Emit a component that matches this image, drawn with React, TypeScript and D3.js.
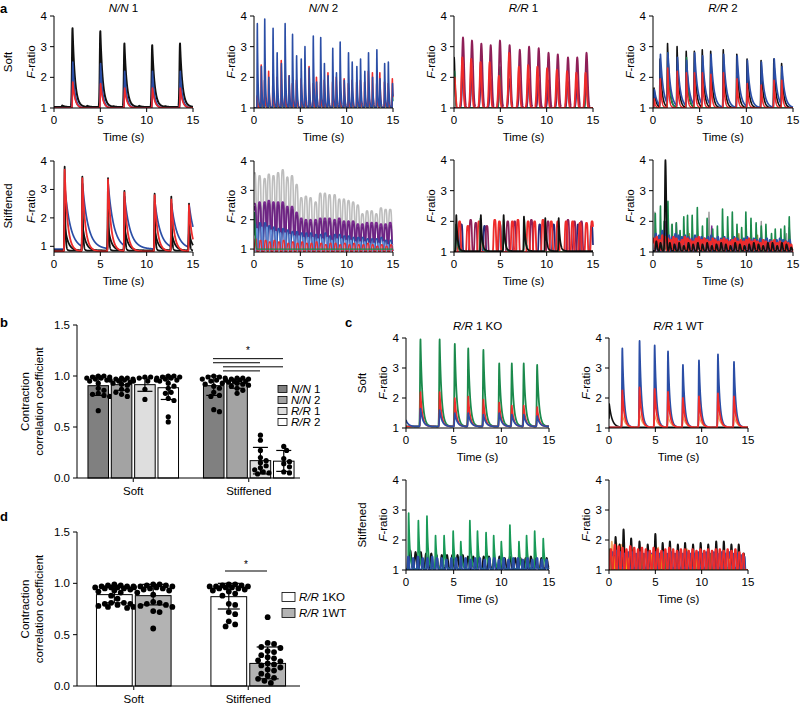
import React from "react";
import * as d3 from "d3";

const FONT = "'Liberation Sans', Arial, Helvetica, sans-serif";
const FS = 11.5;

// ---------------- axis ticks / categories ----------------
const timeTicks = [0, 5, 10, 15];
const fTicks = [1, 2, 3, 4];
const barTicks = [0, 0.5, 1.0, 1.5];
const groups = ["Soft", "Stiffened"];
const bSeries = ["N/N 1", "N/N 2", "R/R 1", "R/R 2"];
const dSeries = ["R/R 1KO", "R/R 1WT"];

// ---------------- panel a, row Soft ----------------
const a11BlackT = [0.9, 2.0, 3.6, 5.0, 6.4, 7.6, 9.2, 10.6, 12.0, 13.6];
const a11BlackH = [1.08, 3.6, 1.07, 3.5, 1.06, 3.1, 1.07, 3.05, 1.06, 3.1];
const a11PeakT = [2.03, 5.03, 7.63, 10.63, 13.63];
const a11Purple = [2.0, 1.95, 1.8, 1.8, 1.8];
const a11Blue = [2.5, 2.45, 2.2, 2.2, 2.2];
const a11Red = [1.85, 1.8, 1.65, 1.65, 1.65];
const a12T = [0.36, 0.8, 1.16, 1.6, 2.06, 2.5, 2.96, 3.36, 3.8, 4.16, 4.6, 5.1, 5.5, 5.96, 6.4, 6.76, 7.2, 7.6, 8.0, 8.5, 8.9, 9.3, 9.75, 10.2, 10.6, 11.1, 11.5, 11.96, 12.36, 12.8, 13.26, 13.6, 14.1, 14.5, 14.95];
const a12Blue = [3.75, 2.35, 3.9, 2.0, 3.6, 2.8, 2.45, 3.75, 2.05, 3.4, 2.7, 2.6, 3.0, 2.3, 3.35, 1.85, 3.3, 2.45, 2.05, 2.95, 2.15, 3.15, 1.9, 2.8, 2.5, 2.35, 2.6, 2.2, 2.8, 2.0, 2.9, 1.95, 2.45, 2.5, 1.8];
const a12Red = [1.4, 2.4, 1.9, 2.2, 1.95, 2.0, 2.55, 1.9, 2.05, 1.8, 1.9, 1.95, 1.85, 2.35, 1.8, 2.0, 1.85, 1.9, 2.15, 1.85, 2.0, 1.85, 1.95, 1.8, 1.9, 1.85, 1.9, 1.85, 2.2, 2.15, 1.8, 2.15, 1.85, 1.8, 1.95];
const a12Green = [1.35, 1.3, 1.4, 1.3, 1.35, 1.25, 1.4, 1.3, 1.35, 1.3, 1.4, 1.25, 1.35, 1.3, 1.4, 1.3, 1.35, 1.3, 1.45, 1.3, 1.35, 1.25, 1.4, 1.3, 1.35, 1.3, 1.4, 1.3, 1.35, 1.3, 1.4, 1.3, 1.35, 1.3, 1.45];
const a13MaroonT = [0.97, 1.94, 2.95, 3.96, 4.96, 6.0, 7.1, 8.1, 9.14, 10.2, 11.2, 12.3, 13.3, 14.3];
const a13Maroon = [3.3, 3.2, 3.1, 3.05, 3.2, 3.05, 2.9, 3.0, 2.95, 2.8, 2.75, 2.65, 2.65, 2.8];
const a13Navy = [2.1, 2.0, 2.05, 1.95, 2.0, 1.95, 1.9, 1.95, 1.9, 1.9, 1.85, 1.85, 1.8, 1.85];
const a13RedT = [0.05, 0.9, 1.85, 2.87, 3.85, 4.85, 5.95, 7.0, 8.0, 9.0, 10.05, 11.1, 12.2, 13.2, 14.2];
const a13Red = [2.0, 2.65, 2.6, 2.5, 2.5, 2.05, 2.8, 2.35, 2.4, 2.35, 2.3, 2.25, 2.2, 2.15, 2.15];
const a13BlackT = [0.02];
const a13Black = [2.65];
const a13GreenT = [0.05, 4.96, 14.3];
const a13Green = [2.2, 2.35, 2.2];
const a14T = [0.15, 0.8, 1.6, 2.62, 3.6, 4.47, 5.32, 6.22, 7.57, 9.02, 10.12, 11.62, 12.99, 13.82];
const a14Black = [1.65, 2.6, 3.1, 3.0, 2.85, 2.85, 2.9, 2.85, 2.9, 2.75, 2.6, 2.55, 2.6, 2.45];
const a14Blue = [1.6, 2.75, 2.8, 2.65, 2.55, 2.8, 2.7, 2.75, 2.75, 2.7, 2.55, 2.5, 2.6, 2.35];
const a14Red = [1.3, 1.95, 2.3, 2.2, 2.15, 2.15, 2.15, 2.1, 2.15, 1.95, 1.8, 1.75, 1.9, 1.9];
const a14GreenT = [1.6, 3.6];
const a14Green = [2.8, 2.65];

// ---------------- panel a, row Stiffened ----------------
const a21T = [1.15, 3.06, 5.83, 7.6, 10.86, 12.66, 14.57];
const a21Black = [3.8, 3.45, 3.4, 2.95, 2.85, 2.75, 2.5];
const a21BlackShoulder = [1.75, 1.75, 1.7, 1.7, 1.6, 1.55, 1.5];
const a21Blue = [3.1, 3.2, 3.2, 2.75, 2.6, 2.5, 2.45];
const a21Red = [3.7, 3.4, 3.35, 2.9, 2.8, 2.65, 2.45];
const a22T = [0.07, 0.6, 1.15, 1.6, 2.1, 2.6, 3.1, 3.6, 4.1, 4.6, 5.1, 5.6, 6.1, 6.65, 7.15, 7.65, 8.15, 8.7, 9.2, 9.7, 10.2, 10.7, 11.2, 11.7, 12.2, 12.7, 13.2, 13.7, 14.2, 14.7];
const a22Gray = [3.6, 3.5, 3.4, 3.55, 3.5, 3.6, 3.7, 3.45, 3.5, 3.2, 2.75, 2.8, 2.75, 2.6, 2.9, 2.9, 2.85, 2.85, 2.7, 2.7, 2.65, 2.6, 2.5, 2.2, 2.3, 2.3, 2.2, 2.4, 2.35, 2.35];
const a22Purple = [2.55, 2.6, 2.6, 2.65, 2.6, 2.6, 2.6, 2.45, 2.45, 2.25, 2.05, 2.0, 2.0, 2.0, 2.05, 2.05, 2.05, 2.0, 2.05, 1.95, 1.95, 1.95, 1.85, 1.85, 1.9, 1.9, 1.9, 1.85, 1.85, 1.9];
const a22Blue = [1.85, 1.9, 1.9, 1.8, 1.75, 1.7, 1.7, 1.65, 1.6, 1.6, 1.55, 1.55, 1.55, 1.5, 1.5, 1.55, 1.45, 1.5, 1.5, 1.45, 1.45, 1.4, 1.4, 1.4, 1.35, 1.35, 1.35, 1.4, 1.3, 1.3];
const a22Red = [1.35, 1.3, 1.3, 1.25, 1.3, 1.25, 1.3, 1.2, 1.25, 1.2, 1.25, 1.2, 1.2, 1.25, 1.2, 1.15, 1.2, 1.2, 1.15, 1.2, 1.15, 1.2, 1.15, 1.15, 1.2, 1.15, 1.1, 1.15, 1.1, 1.15];
const a22GreenT = [0.05];
const a22Green = [2.25];
const a23BlackT = [0.25, 2.9, 5.36, 7.55, 9.85, 11.3];
const a23Black = [2.2, 2.2, 2.2, 2.15, 2.1, 2.1];
const a23RedT = [0.6, 1.5, 2.7, 4.4, 4.9, 6.3, 6.9, 8.0, 8.7, 9.6, 10.5, 11.2, 12.1, 12.8, 13.6, 14.3, 14.9];
const a23Red = [2.0, 1.85, 2.0, 2.05, 2.0, 2.0, 2.05, 2.0, 2.0, 2.05, 2.0, 2.0, 2.0, 2.0, 1.95, 1.95, 2.0];
const a23MaroonT = [1.8, 2.35, 3.55, 5.8, 6.55, 8.35, 10.15, 12.3, 13.0, 13.75];
const a23Maroon = [2.05, 1.95, 1.85, 2.0, 2.0, 2.05, 2.0, 2.05, 2.0, 2.0];
const a23NavyT = [0.8, 3.3, 4.95, 9.25, 10.75, 13.4, 14.85];
const a23Navy = [1.9, 1.85, 1.9, 1.9, 1.9, 1.9, 1.85];
const a23GreenT = [0.2, 2.85, 5.35, 7.6];
const a23Green = [1.9, 2.1, 2.05, 2.05];
const a24GreenT = [0.25, 0.8, 1.2, 1.6, 2.05, 2.5, 2.9, 3.3, 3.7, 4.2, 4.75, 5.3, 5.8, 6.4, 6.9, 7.45, 8.0, 8.5, 9.0, 9.5, 9.95, 10.5, 11.05, 11.6, 12.1, 12.7, 13.1, 13.7, 14.1, 14.6];
const a24Green = [2.25, 2.5, 2.0, 2.65, 1.9, 1.95, 1.7, 2.15, 2.2, 2.2, 2.45, 1.85, 2.1, 1.75, 1.85, 2.4, 2.15, 2.3, 1.9, 1.8, 2.3, 2.1, 1.95, 1.85, 1.9, 1.6, 1.75, 1.75, 1.85, 2.15];
const a24BlackT = [0.35, 0.8, 1.33, 1.8, 2.3, 2.8, 3.3, 3.8, 4.3, 4.8, 5.3, 5.8, 6.3, 6.8, 7.3, 7.8, 8.3, 8.8, 9.3, 9.8, 10.3, 10.8, 11.3, 11.8, 12.3, 12.8, 13.3, 13.8, 14.3, 14.8];
const a24Black = [1.35, 1.3, 4.0, 1.3, 1.25, 1.3, 1.2, 1.3, 1.25, 1.3, 1.25, 1.3, 1.2, 1.25, 1.3, 1.25, 1.2, 1.3, 1.25, 1.2, 1.25, 1.3, 1.25, 1.2, 1.3, 1.3, 1.2, 1.3, 1.25, 1.15];
const a24RedT = [0.1, 0.4, 0.7, 1.0, 1.3, 1.6, 1.9, 2.2, 2.5, 2.8, 3.1, 3.4, 3.7, 4.0, 4.3, 4.6, 4.9, 5.2, 5.5, 5.8, 6.1, 6.4, 6.7, 7.0, 7.3, 7.6, 7.9, 8.2, 8.5, 8.8, 9.1, 9.4, 9.7, 10.0, 10.3, 10.6, 10.9, 11.2, 11.5, 11.8, 12.1, 12.4, 12.7, 13.0, 13.3, 13.6, 13.9, 14.2, 14.5, 14.8];
const a24Red = [1.45, 1.5, 1.4, 1.55, 1.5, 1.45, 1.4, 1.5, 1.45, 1.35, 1.4, 1.5, 1.45, 1.4, 1.35, 1.45, 1.5, 1.4, 1.45, 1.4, 1.35, 1.45, 1.4, 1.35, 1.4, 1.45, 1.4, 1.35, 1.4, 1.45, 1.35, 1.4, 1.35, 1.4, 1.45, 1.35, 1.4, 1.35, 1.3, 1.4, 1.35, 1.3, 1.35, 1.4, 1.3, 1.35, 1.3, 1.35, 1.3, 1.25];
const a24BlueT = [0.3, 0.65, 1.0, 1.35, 1.7, 2.05, 2.4, 2.75, 3.1, 3.45, 3.8, 4.15, 4.5, 4.85, 5.2, 5.55, 5.9, 6.25, 6.6, 6.95, 7.3, 7.65, 8.0, 8.35, 8.7, 9.05, 9.4, 9.75, 10.1, 10.45, 10.8, 11.15, 11.5, 11.85, 12.2, 12.55, 12.9, 13.25, 13.6, 13.95, 14.3, 14.65];
const a24Blue = [1.6, 1.55, 1.7, 1.6, 1.55, 1.5, 1.6, 1.55, 1.5, 1.55, 1.5, 1.45, 1.55, 1.5, 1.5, 1.45, 1.5, 1.55, 1.45, 1.5, 1.45, 1.5, 1.45, 1.4, 1.5, 1.45, 1.4, 1.45, 1.5, 1.4, 1.45, 1.4, 1.45, 1.4, 1.45, 1.4, 1.35, 1.4, 1.45, 1.4, 1.35, 1.4];
const a24GrayT = [0.2, 2.0, 6.0, 11.6, 14.3];
const a24Gray = [2.3, 1.9, 2.3, 2.0, 1.6];
const a24PurpleT = [1.3, 2.5, 6.3, 14.6];
const a24Purple = [2.0, 1.95, 1.85, 1.8];
const a24OliveT = [3.9, 9.2, 11.2];
const a24Olive = [1.6, 1.6, 1.55];

// ---------------- panel c ----------------
const c11T = [1.52, 3.53, 5.12, 6.53, 8.12, 9.78, 11.1, 12.35, 13.76];
const c11Green = [3.95, 3.95, 3.8, 3.65, 3.6, 3.15, 3.15, 3.15, 3.1];
const c11Red = [2.2, 2.2, 2.0, 2.05, 1.95, 1.85, 1.75, 1.75, 1.7];
const c11BlueT = [0.02, 1.52, 3.53, 5.12, 6.53, 8.12, 9.78, 11.1, 12.35, 13.76];
const c11Blue = [1.25, 1.65, 1.6, 1.5, 1.5, 1.45, 1.5, 1.45, 1.45, 1.4];
const c12T = [1.44, 3.3, 4.93, 6.37, 7.98, 9.71, 11.76, 13.49];
const c12Blue = [3.65, 3.9, 3.75, 3.55, 3.1, 3.25, 3.45, 3.2];
const c12Red = [2.25, 2.35, 2.3, 2.2, 2.0, 2.05, 2.15, 2.05];
const c12Orange = [1.45, 1.5, 1.45, 1.4, 1.4, 1.4, 1.45, 1.4];
const c12BlackT = [0.03];
const c12Black = [1.8];
const c21GreenT = [0.28, 1.3, 2.2, 3.1, 4.0, 4.95, 5.75, 6.7, 7.5, 8.4, 9.2, 10.0, 10.9, 11.85, 12.65, 13.5, 14.4];
const c21Green = [2.9, 2.65, 2.8, 2.15, 2.15, 2.3, 1.95, 2.65, 2.3, 2.25, 2.15, 1.95, 2.5, 1.95, 2.15, 2.3, 2.05];
const c21BlackT = [0.45, 1.0, 1.55, 2.1, 2.65, 3.2, 3.75, 4.3, 4.85, 5.4, 5.95, 6.5, 7.05, 7.6, 8.15, 8.7, 9.25, 9.8, 10.35, 10.9, 11.45, 12.0, 12.55, 13.1, 13.65, 14.2, 14.75];
const c21Black = [1.65, 1.6, 1.6, 1.55, 1.55, 1.5, 1.5, 1.5, 1.5, 1.5, 1.5, 1.45, 1.45, 1.45, 1.45, 1.45, 1.4, 1.45, 1.4, 1.45, 1.4, 1.4, 1.4, 1.45, 1.4, 1.4, 1.4];
const c21BlueT = [0.25, 0.75, 1.25, 1.75, 2.25, 2.75, 3.25, 3.75, 4.25, 4.75, 5.25, 5.75, 6.25, 6.75, 7.25, 7.75, 8.25, 8.75, 9.25, 9.75, 10.25, 10.75, 11.25, 11.75, 12.25, 12.75, 13.25, 13.75, 14.25, 14.75];
const c21Blue = [1.45, 1.4, 1.45, 1.4, 1.4, 1.45, 1.4, 1.4, 1.35, 1.4, 1.4, 1.45, 1.4, 1.35, 1.4, 1.4, 1.35, 1.4, 1.4, 1.35, 1.4, 1.35, 1.4, 1.4, 1.35, 1.4, 1.35, 1.4, 1.35, 1.35];
const c22BlackT = [0.71, 1.14, 1.57, 2.39, 3.29, 4.18, 5.0, 5.79, 6.57, 7.43, 8.21, 9.07, 9.89, 10.71, 11.57, 12.39, 13.21, 14.0, 14.54];
const c22Black = [2.1, 1.85, 2.35, 2.05, 1.95, 1.85, 2.2, 1.9, 1.95, 1.85, 1.9, 1.85, 1.9, 1.85, 1.95, 1.95, 1.85, 1.85, 1.55];
const c22RedT = [0.2, 0.62, 1.04, 1.46, 1.88, 2.3, 2.72, 3.14, 3.56, 3.98, 4.4, 4.82, 5.24, 5.66, 6.08, 6.5, 6.92, 7.34, 7.76, 8.18, 8.6, 9.02, 9.44, 9.86, 10.28, 10.7, 11.12, 11.54, 11.96, 12.38, 12.8, 13.22, 13.64, 14.06, 14.48];
const c22Red = [1.7, 1.85, 1.8, 1.75, 1.7, 1.8, 1.75, 1.7, 1.75, 1.7, 1.65, 1.75, 1.7, 1.65, 1.7, 1.75, 1.7, 1.65, 1.7, 1.7, 1.65, 1.7, 1.65, 1.7, 1.65, 1.7, 1.65, 1.7, 1.7, 1.65, 1.7, 1.65, 1.7, 1.6, 1.55];
const c22BlueT = [0.4, 0.82, 1.24, 1.66, 2.08, 2.5, 2.92, 3.34, 3.76, 4.18, 4.6, 5.02, 5.44, 5.86, 6.28, 6.7, 7.12, 7.54, 7.96, 8.38, 8.8, 9.22, 9.64, 10.06, 10.48, 10.9, 11.32, 11.74, 12.16, 12.58, 13.0, 13.42, 13.84, 14.26, 14.6];
const c22Blue = [1.6, 1.65, 1.6, 1.55, 1.6, 1.6, 1.55, 1.6, 1.55, 1.6, 1.55, 1.6, 1.55, 1.6, 1.55, 1.6, 1.55, 1.6, 1.55, 1.6, 1.55, 1.55, 1.6, 1.55, 1.6, 1.55, 1.6, 1.55, 1.6, 1.55, 1.6, 1.55, 1.55, 1.5, 1.45];
const c22OrangeT = [0.3, 0.8, 1.3, 2.6, 5.3, 8.4, 12.0];
const c22Orange = [1.95, 1.9, 1.85, 1.7, 1.75, 1.7, 1.65];
const c22YellowT = [0.5, 2.0, 4.6, 5.6, 9.4, 13.0];
const c22Yellow = [1.45, 1.4, 1.5, 1.4, 1.4, 1.35];
const c22GreenT = [0.1, 3.6, 6.0, 10.9];
const c22Green = [1.7, 1.55, 1.6, 1.55];

// ---------------- panel b (bars) ----------------
const bMeanSoft = [0.905, 0.915, 0.915, 0.885];
const bMeanStiff = [0.905, 0.925, 0.17, 0.165];
const bLoSoft = [0.81, 0.86, 0.85, 0.77];
const bHiSoft = [1.0, 0.97, 0.98, 1.0];
const bLoStiff = [0.81, 0.88, 0.04, 0.065];
const bHiStiff = [1.0, 0.97, 0.3, 0.27];
const bDotsSoftNN1 = [1.0, 1.0, 0.99, 0.99, 0.98, 0.98, 0.97, 0.96, 0.95, 0.93, 0.88, 0.86, 0.83, 0.82, 0.81, 0.8, 0.66];
const bDotsSoftNN2 = [0.98, 0.98, 0.97, 0.97, 0.96, 0.96, 0.95, 0.94, 0.93, 0.92, 0.91, 0.87, 0.86, 0.84, 0.82, 0.8];
const bDotsSoftRR1 = [0.99, 0.99, 0.98, 0.96, 0.95, 0.95, 0.87, 0.77];
const bDotsSoftRR2 = [1.0, 1.0, 0.99, 0.99, 0.98, 0.98, 0.97, 0.96, 0.95, 0.93, 0.9, 0.88, 0.84, 0.83, 0.78, 0.76, 0.6, 0.55];
const bDotsStiffNN1 = [1.0, 0.99, 0.99, 0.98, 0.97, 0.96, 0.95, 0.93, 0.92, 0.9, 0.88, 0.84, 0.81, 0.8, 0.67, 0.65];
const bDotsStiffNN2 = [0.98, 0.98, 0.97, 0.97, 0.96, 0.96, 0.95, 0.95, 0.94, 0.93, 0.92, 0.91, 0.9, 0.88, 0.86, 0.83];
const bDotsStiffRR1 = [0.42, 0.37, 0.27, 0.2, 0.17, 0.15, 0.12, 0.1, 0.08, 0.06, 0.05, 0.04];
const bDotsStiffRR2 = [0.31, 0.27, 0.19, 0.16, 0.14, 0.11, 0.06, 0.05];

// ---------------- panel d (bars) ----------------
const dMeanSoft = [0.89, 0.88];
const dMeanStiff = [0.87, 0.22];
const dLoSoft = [0.81, 0.79];
const dHiSoft = [0.97, 0.99];
const dLoStiff = [0.75, 0.07];
const dHiStiff = [1.0, 0.38];
const dDotsSoftKO = [0.99, 0.98, 0.98, 0.97, 0.97, 0.97, 0.96, 0.96, 0.96, 0.95, 0.95, 0.94, 0.93, 0.92, 0.91, 0.88, 0.85, 0.81, 0.81, 0.8, 0.8, 0.79, 0.78, 0.77, 0.77, 0.76];
const dDotsSoftWT = [0.99, 0.99, 0.98, 0.98, 0.97, 0.97, 0.96, 0.96, 0.95, 0.95, 0.94, 0.93, 0.91, 0.89, 0.82, 0.81, 0.8, 0.79, 0.78, 0.77, 0.73, 0.72, 0.56];
const dDotsStiffKO = [0.99, 0.99, 0.98, 0.98, 0.97, 0.97, 0.97, 0.96, 0.96, 0.95, 0.95, 0.94, 0.93, 0.92, 0.9, 0.88, 0.8, 0.79, 0.72, 0.7, 0.63, 0.6, 0.58];
const dDotsStiffWT = [0.67, 0.42, 0.41, 0.38, 0.37, 0.34, 0.33, 0.3, 0.28, 0.27, 0.25, 0.24, 0.22, 0.21, 0.2, 0.18, 0.16, 0.15, 0.12, 0.1, 0.08, 0.07, 0.05, 0.03];

// ---------------- styles ----------------
const COL = {
  black: "#111111",
  blue: "#2b4ea6",
  red: "#ee2b2b",
  green: "#1b8a4c",
  purple: "#7a2a90",
  maroon: "#8e1f57",
  navy: "#24297a",
  gray: "#bdbdbd",
  lblue: "#6a95d8",
  orange: "#f2a65e",
  yellow: "#e6d300",
  olive: "#a08c3c",
};

type Kind = "exp" | "gauss" | "flat";
interface Series {
  t: number[];
  h: number[];
  color: string;
  base?: number;
  rise: number;
  decay: number;
  kind?: Kind;
  w?: number;
}

function kern(kind: Kind, d: number, rise: number, decay: number) {
  if (kind === "flat") return Math.exp(-Math.pow(Math.abs(d) / rise, 4));
  if (d < 0) return Math.exp(-(d / rise) * (d / rise));
  if (kind === "gauss") return Math.exp(-(d / decay) * (d / decay));
  return Math.exp(-d / decay);
}

function buildTrace(s: Series): [number, number][] {
  const base = s.base ?? 1;
  const kind = s.kind ?? "exp";
  const pts: [number, number][] = [];
  for (let i = 0; i <= 1500; i++) {
    const t = i * 0.01;
    let m = 0;
    for (let k = 0; k < s.t.length; k++) {
      const d = t - s.t[k];
      if (d < -1.2 || d > 4) continue;
      const v = (s.h[k] - base) * kern(kind, d, s.rise, s.decay);
      if (v > m) m = v;
    }
    pts.push([t, base + m]);
  }
  return pts;
}

interface TitlePart { text: string; italic?: boolean }

interface TraceSpec {
  id: string;
  x0: number;
  x1: number;
  yTop: number;
  yBot: number;
  yMin: number;
  title?: TitlePart[];
  titleY?: number;
  series: Series[];
}

const aRow1Top = 16, aRow1Bot = 108, aRow2Top = 161, aRow2Bot = 252;
const cRow1Top = 338, cRow1Bot = 428, cRow2Top = 480, cRow2Bot = 570;

const tracePanels: TraceSpec[] = [
  {
    id: "a11", x0: 54, x1: 193, yTop: aRow1Top, yBot: aRow1Bot, yMin: 1,
    title: [{ text: "N/N", italic: true }, { text: " 1" }], titleY: 12,
    series: [
      { t: a11BlackT, h: a11BlackH, color: COL.black, base: 1.03, rise: 0.08, decay: 0.26, w: 2.0 },
      { t: a11PeakT, h: a11Purple, color: COL.purple, rise: 0.05, decay: 0.22 },
      { t: a11PeakT, h: a11Blue, color: COL.blue, rise: 0.05, decay: 0.22, w: 1.6 },
      { t: a11PeakT, h: a11Red, color: COL.red, rise: 0.05, decay: 0.24, w: 1.6 },
    ],
  },
  {
    id: "a12", x0: 254, x1: 393, yTop: aRow1Top, yBot: aRow1Bot, yMin: 1,
    title: [{ text: "N/N", italic: true }, { text: " 2" }], titleY: 12,
    series: [
      { t: a12T, h: a12Green, color: COL.green, rise: 0.03, decay: 0.07 },
      { t: a12T.map((v) => v - 0.02), h: a12Red, color: COL.red, rise: 0.03, decay: 0.07, w: 1.6 },
      { t: a12T, h: a12Blue, color: COL.blue, rise: 0.03, decay: 0.07, w: 1.6 },
    ],
  },
  {
    id: "a13", x0: 454, x1: 593, yTop: aRow1Top, yBot: aRow1Bot, yMin: 1,
    title: [{ text: "R/R", italic: true }, { text: " 1" }], titleY: 12,
    series: [
      { t: a13MaroonT, h: a13Navy, color: COL.navy, rise: 0.13, decay: 0.14, kind: "gauss" },
      { t: a13BlackT, h: a13Black, color: COL.black, rise: 0.03, decay: 0.12, kind: "gauss" },
      { t: a13GreenT, h: a13Green, color: COL.green, rise: 0.1, decay: 0.12, kind: "gauss" },
      { t: a13MaroonT, h: a13Maroon, color: COL.maroon, rise: 0.15, decay: 0.17, kind: "gauss", w: 1.8 },
      { t: a13RedT, h: a13Red, color: COL.red, rise: 0.13, decay: 0.15, kind: "gauss", w: 1.8 },
    ],
  },
  {
    id: "a14", x0: 653, x1: 793, yTop: aRow1Top, yBot: aRow1Bot, yMin: 1,
    title: [{ text: "R/R", italic: true }, { text: " 2" }], titleY: 12,
    series: [
      { t: a14T.map((v) => v - 0.04), h: a14Black, color: COL.black, rise: 0.04, decay: 0.2, w: 1.6 },
      { t: a14GreenT, h: a14Green, color: COL.green, rise: 0.04, decay: 0.2 },
      { t: a14T, h: a14Blue, color: COL.blue, rise: 0.05, decay: 0.3, w: 1.7 },
      { t: a14T.map((v) => v - 0.02), h: a14Red, color: COL.red, rise: 0.04, decay: 0.13, w: 1.6 },
    ],
  },
  {
    id: "a21", x0: 54, x1: 193, yTop: aRow2Top, yBot: aRow2Bot, yMin: 0.8,
    series: [
      { t: a21T.map((v) => v + 0.02), h: a21Blue, color: COL.blue, base: 0.9, rise: 0.05, decay: 0.6, w: 1.7 },
      { t: a21T, h: a21BlackShoulder, color: COL.black, base: 0.85, rise: 0.05, decay: 0.35, w: 1.8 },
      { t: a21T, h: a21Black, color: COL.black, base: 0.85, rise: 0.04, decay: 0.07, w: 1.8 },
      { t: a21T, h: a21Red, color: COL.red, base: 0.82, rise: 0.04, decay: 0.32, w: 1.8 },
    ],
  },
  {
    id: "a22", x0: 254, x1: 393, yTop: aRow2Top, yBot: aRow2Bot, yMin: 0.9,
    series: [
      { t: a22T, h: a22Gray, color: COL.gray, base: 0.92, rise: 0.19, decay: 0.19, kind: "flat", w: 1.6 },
      { t: a22T, h: a22Purple, color: COL.purple, base: 0.92, rise: 0.19, decay: 0.19, kind: "flat", w: 1.7 },
      { t: a22T.map((v) => v + 0.02), h: a22Purple.map((v) => v - 0.1), color: "#6b2480", base: 0.92, rise: 0.16, decay: 0.16, kind: "flat", w: 1.5 },
      { t: a22T.map((v) => v + 0.05), h: a22Blue, color: COL.blue, base: 0.95, rise: 0.15, decay: 0.15, kind: "flat", w: 1.4 },
      { t: a22T.map((v) => v + 0.25), h: a22Blue.map((v) => v - 0.15), color: COL.lblue, base: 0.95, rise: 0.1, decay: 0.1, kind: "flat", w: 1.2 },
      { t: a22T.map((v) => v + 0.1), h: a22Red, color: COL.red, base: 0.92, rise: 0.12, decay: 0.12, kind: "flat", w: 1.2 },
      { t: a22GreenT, h: a22Green, color: COL.green, base: 1.0, rise: 0.05, decay: 0.1, kind: "gauss", w: 1.2 },
    ],
  },
  {
    id: "a23", x0: 454, x1: 593, yTop: aRow2Top - 1, yBot: aRow2Bot, yMin: 1,
    series: [
      { t: a23NavyT, h: a23Navy, color: COL.navy, rise: 0.14, decay: 0.14, kind: "flat", w: 1.7 },
      { t: a23MaroonT, h: a23Maroon, color: COL.maroon, rise: 0.15, decay: 0.15, kind: "flat", w: 1.7 },
      { t: a23RedT, h: a23Red, color: COL.red, rise: 0.15, decay: 0.15, kind: "flat", w: 1.8 },
      { t: a23GreenT, h: a23Green, color: COL.green, rise: 0.05, decay: 0.15, w: 1.5 },
      { t: a23BlackT, h: a23Black, color: COL.black, base: 1.03, rise: 0.04, decay: 0.14, w: 1.8 },
    ],
  },
  {
    id: "a24", x0: 653, x1: 793, yTop: aRow2Top - 1, yBot: aRow2Bot, yMin: 1,
    series: [
      { t: a24GrayT, h: a24Gray, color: "#999999", rise: 0.04, decay: 0.1, w: 1.4 },
      { t: a24PurpleT, h: a24Purple, color: COL.purple, rise: 0.04, decay: 0.1, w: 1.4 },
      { t: a24OliveT, h: a24Olive, color: COL.olive, rise: 0.05, decay: 0.1, w: 1.4 },
      { t: a24GreenT, h: a24Green, color: COL.green, rise: 0.04, decay: 0.08, w: 1.6 },
      { t: a24BlueT, h: a24Blue, color: COL.blue, rise: 0.12, decay: 0.12, kind: "flat", w: 1.5 },
      { t: a24RedT, h: a24Red, color: COL.red, rise: 0.12, decay: 0.12, kind: "flat", w: 1.6 },
      { t: a24BlackT, h: a24Black, color: COL.black, base: 1.04, rise: 0.08, decay: 0.12, kind: "gauss", w: 1.7 },
    ],
  },
  {
    id: "c11", x0: 406, x1: 549, yTop: cRow1Top, yBot: cRow1Bot, yMin: 1,
    title: [{ text: "R/R", italic: true }, { text: " 1 KO" }], titleY: 330,
    series: [
      { t: c11T, h: c11Green, color: COL.green, base: 1.05, rise: 0.06, decay: 0.2, w: 1.8 },
      { t: c11T, h: c11Red, color: COL.red, base: 1.05, rise: 0.05, decay: 0.2, w: 1.7 },
      { t: c11BlueT, h: c11Blue, color: COL.blue, base: 1.05, rise: 0.05, decay: 0.25, w: 1.7 },
    ],
  },
  {
    id: "c12", x0: 609, x1: 748, yTop: cRow1Top, yBot: cRow1Bot, yMin: 1,
    title: [{ text: "R/R", italic: true }, { text: " 1 WT" }], titleY: 330,
    series: [
      { t: c12BlackT, h: c12Black, color: COL.black, base: 1.02, rise: 0.03, decay: 0.3, w: 1.6 },
      { t: c12T, h: c12Blue, color: COL.blue, base: 1.02, rise: 0.05, decay: 0.2, w: 1.8 },
      { t: c12T, h: c12Orange, color: COL.orange, base: 1.02, rise: 0.05, decay: 0.3, w: 1.3 },
      { t: c12T, h: c12Red, color: COL.red, base: 1.02, rise: 0.05, decay: 0.22, w: 1.8 },
    ],
  },
  {
    id: "c21", x0: 406, x1: 549, yTop: cRow2Top, yBot: cRow2Bot, yMin: 1,
    series: [
      { t: c21BlackT, h: c21Black, color: COL.black, base: 1.02, rise: 0.12, decay: 0.15, kind: "gauss", w: 1.8 },
      { t: c21GreenT, h: c21Green, color: "#199a58", base: 1.02, rise: 0.04, decay: 0.13, w: 1.7 },
      { t: c21BlueT, h: c21Blue, color: COL.blue, base: 1.02, rise: 0.09, decay: 0.09, kind: "flat", w: 1.8 },
    ],
  },
  {
    id: "c22", x0: 609, x1: 748, yTop: cRow2Top, yBot: cRow2Bot, yMin: 1,
    series: [
      { t: c22OrangeT, h: c22Orange, color: COL.orange, rise: 0.1, decay: 0.12, kind: "gauss", w: 1.5 },
      { t: c22BlackT, h: c22Black, color: COL.black, rise: 0.08, decay: 0.1, kind: "gauss", w: 1.9 },
      { t: c22BlueT, h: c22Blue, color: COL.blue, rise: 0.1, decay: 0.1, kind: "flat", w: 1.6 },
      { t: c22YellowT, h: c22Yellow, color: COL.yellow, rise: 0.1, decay: 0.1, kind: "flat", w: 1.4 },
      { t: c22GreenT, h: c22Green, color: COL.green, rise: 0.08, decay: 0.1, kind: "gauss", w: 1.4 },
      { t: c22RedT, h: c22Red, color: COL.red, rise: 0.11, decay: 0.11, kind: "flat", w: 1.7 },
    ],
  },
];

function FRatio({ x, y }: { x: number; y: number }) {
  return (
    <text transform={`translate(${x},${y}) rotate(-90)`} textAnchor="middle" dominantBaseline="central">
      <tspan fontStyle="italic">F</tspan>-ratio
    </text>
  );
}

function TracePanel({ p }: { p: TraceSpec }) {
  const xs = d3.scaleLinear().domain([0, 15]).range([p.x0, p.x1]);
  const ys = d3.scaleLinear().domain([p.yMin, 4]).range([p.yBot, p.yTop]);
  const line = d3.line<[number, number]>().x((d) => xs(d[0])).y((d) => ys(d[1]));
  const cx = (p.x0 + p.x1) / 2;
  return (
    <g>
      <clipPath id={`clip-${p.id}`}>
        <rect x={p.x0} y={p.yTop - 3} width={p.x1 - p.x0 + 1} height={p.yBot - p.yTop + 3} />
      </clipPath>
      <g clipPath={`url(#clip-${p.id})`} fill="none" strokeLinejoin="round">
        {p.series.map((s, i) => (
          <path key={i} d={line(buildTrace(s)) || ""} stroke={s.color} strokeWidth={s.w ?? 1.4} />
        ))}
      </g>
      <g stroke="#000" strokeWidth={1} fill="none">
        <line x1={p.x0} x2={p.x0} y1={p.yTop} y2={p.yBot} />
        <line x1={p.x0} x2={p.x1} y1={p.yBot} y2={p.yBot} />
        {fTicks.map((t) => (
          <line key={t} x1={p.x0 - 4} x2={p.x0} y1={ys(t)} y2={ys(t)} />
        ))}
        {timeTicks.map((t) => (
          <line key={t} x1={xs(t)} x2={xs(t)} y1={p.yBot} y2={p.yBot + 4} />
        ))}
      </g>
      {fTicks.map((t) => (
        <text key={t} x={p.x0 - 7} y={ys(t)} textAnchor="end" dominantBaseline="central">{t}</text>
      ))}
      {timeTicks.map((t) => (
        <text key={t} x={xs(t)} y={p.yBot + 16} textAnchor="middle">{t}</text>
      ))}
      <text x={cx} y={p.yBot + 33} textAnchor="middle">Time (s)</text>
      <FRatio x={p.x0 - 23} y={(p.yTop + p.yBot) / 2} />
      {p.title && (
        <text x={cx} y={p.titleY} textAnchor="middle">
          {p.title.map((tp, i) => (
            <tspan key={i} fontStyle={tp.italic ? "italic" : "normal"}>{tp.text}</tspan>
          ))}
        </text>
      )}
    </g>
  );
}

// Deterministic beeswarm constrained to about the bar width; dots may overlap a little.
function swarm(values: number[], cx: number, ys: (v: number) => number, r: number, half: number) {
  const placed: { x: number; y: number }[] = [];
  const sorted = [...values].sort((a, b) => b - a);
  const step = r * 1.1;
  const nSteps = Math.floor(half / step);
  const cands: number[] = [0];
  for (let k = 1; k <= nSteps; k++) cands.push(k * step, -k * step);
  for (const v of sorted) {
    const y = ys(v);
    let best = cands[0];
    let bestD = -1;
    for (const off of cands) {
      const x = cx + off;
      let minD = Infinity;
      for (const p of placed) minD = Math.min(minD, Math.hypot(p.x - x, p.y - y));
      if (minD >= 2 * r * 0.9) { best = off; bestD = Infinity; break; }
      if (minD > bestD) { bestD = minD; best = off; }
    }
    placed.push({ x: cx + best, y });
  }
  return placed;
}

interface BarSpec {
  yTop: number;
  yBot: number;
  series: string[];
  fills: string[];
  means: number[][];
  lo: number[][];
  hi: number[][];
  dots: number[][][];
  padInner: number;
  padOuter: number;
  subPad: number;
  cap: number;
  r: number;
}

function BarPanel({ b, children }: { b: BarSpec; children?: React.ReactNode }) {
  const ys = d3.scaleLinear().domain([0, 1.5]).range([b.yBot, b.yTop]);
  const gx = d3.scaleBand<string>().domain(groups).range([77, 305]).paddingInner(b.padInner).paddingOuter(b.padOuter);
  const sx = d3.scaleBand<string>().domain(b.series).range([0, gx.bandwidth()]).paddingInner(b.subPad);
  const midY = (b.yTop + b.yBot) / 2;
  return (
    <g>
      {groups.map((g, gi) =>
        b.series.map((s, si) => {
          const x = (gx(g) ?? 0) + (sx(s) ?? 0);
          const w = sx.bandwidth();
          const c = x + w / 2;
          const pts = swarm(b.dots[gi][si], c, ys, b.r, w / 2 + 2);
          return (
            <g key={g + s}>
              <rect x={x} y={ys(b.means[gi][si])} width={w} height={b.yBot - ys(b.means[gi][si])} fill={b.fills[si]} stroke="#000" strokeWidth={1} />
              <g stroke="#000" strokeWidth={1.2}>
                <line x1={c} x2={c} y1={ys(b.lo[gi][si])} y2={ys(b.hi[gi][si])} />
                <line x1={c - b.cap / 2} x2={c + b.cap / 2} y1={ys(b.lo[gi][si])} y2={ys(b.lo[gi][si])} />
                <line x1={c - b.cap / 2} x2={c + b.cap / 2} y1={ys(b.hi[gi][si])} y2={ys(b.hi[gi][si])} />
              </g>
              {pts.map((p, i) => (
                <circle key={i} cx={p.x} cy={p.y} r={b.r} fill="#000" />
              ))}
            </g>
          );
        })
      )}
      <g stroke="#000" strokeWidth={1}>
        <line x1={77} x2={77} y1={b.yTop} y2={b.yBot} />
        <line x1={77} x2={300} y1={b.yBot} y2={b.yBot} />
        {barTicks.map((t) => (
          <line key={t} x1={73} x2={77} y1={ys(t)} y2={ys(t)} />
        ))}
        {groups.map((g) => (
          <line key={g} x1={(gx(g) ?? 0) + gx.bandwidth() / 2} x2={(gx(g) ?? 0) + gx.bandwidth() / 2} y1={b.yBot} y2={b.yBot + 4} />
        ))}
      </g>
      {barTicks.map((t) => (
        <text key={t} x={70} y={ys(t)} textAnchor="end" dominantBaseline="central">{t.toFixed(1)}</text>
      ))}
      {groups.map((g) => (
        <text key={g} x={(gx(g) ?? 0) + gx.bandwidth() / 2} y={b.yBot + 17} textAnchor="middle">{g}</text>
      ))}
      <text transform={`translate(25,${midY}) rotate(-90)`} textAnchor="middle" dominantBaseline="central">Contraction</text>
      <text transform={`translate(39,${midY}) rotate(-90)`} textAnchor="middle" dominantBaseline="central">correlation coefficient</text>
      {children}
    </g>
  );
}

function LegendLabel({ label, x, y }: { label: string; x: number; y: number }) {
  const parts = label.split(" ");
  return (
    <text x={x} y={y} dominantBaseline="central">
      <tspan fontStyle="italic">{parts[0]}</tspan>
      <tspan>{" " + parts.slice(1).join(" ")}</tspan>
    </text>
  );
}

export default function App() {
  const bSpec: BarSpec = {
    yTop: 325, yBot: 478, series: bSeries,
    fills: ["#808080", "#a3a3a3", "#dedede", "#ffffff"],
    means: [bMeanSoft, bMeanStiff], lo: [bLoSoft, bLoStiff], hi: [bHiSoft, bHiStiff],
    dots: [
      [bDotsSoftNN1, bDotsSoftNN2, bDotsSoftRR1, bDotsSoftRR2],
      [bDotsStiffNN1, bDotsStiffNN2, bDotsStiffRR1, bDotsStiffRR2],
    ],
    padInner: 0.216, padOuter: 0.095, subPad: 0.12, cap: 15, r: 2.6,
  };
  const dSpec: BarSpec = {
    yTop: 532, yBot: 686, series: dSeries,
    fills: ["#ffffff", "#b3b3b3"],
    means: [dMeanSoft, dMeanStiff], lo: [dLoSoft, dLoStiff], hi: [dHiSoft, dHiStiff],
    dots: [
      [dDotsSoftKO, dDotsSoftWT],
      [dDotsStiffKO, dDotsStiffWT],
    ],
    padInner: 0.348, padOuter: 0.17, subPad: 0.08, cap: 22, r: 2.9,
  };
  const ysB = d3.scaleLinear().domain([0, 1.5]).range([478, 325]);
  const ysD = d3.scaleLinear().domain([0, 1.5]).range([686, 532]);

  return (
    <svg width={800} height={706} style={{ position: "absolute", left: 0, top: 0, background: "#fff" }} fontFamily={FONT} fontSize={FS} fill="#000">
      <rect x={0} y={0} width={800} height={706} fill="#fff" />
      <g fontWeight="bold" fontSize={13}>
        <text x={0} y={13}>a</text>
        <text x={0} y={327}>b</text>
        <text x={345} y={327}>c</text>
        <text x={0} y={521}>d</text>
      </g>
      <text transform={`translate(8,62) rotate(-90)`} textAnchor="middle" dominantBaseline="central">Soft</text>
      <text transform={`translate(8,206) rotate(-90)`} textAnchor="middle" dominantBaseline="central">Stiffened</text>
      <text transform={`translate(362,383) rotate(-90)`} textAnchor="middle" dominantBaseline="central">Soft</text>
      <text transform={`translate(362,525) rotate(-90)`} textAnchor="middle" dominantBaseline="central">Stiffened</text>

      {tracePanels.map((p) => (
        <TracePanel key={p.id} p={p} />
      ))}

      <BarPanel b={bSpec}>
        <g stroke="#000" strokeWidth={1}>
          <line x1={213} x2={283} y1={ysB(1.17)} y2={ysB(1.17)} />
          <line x1={213} x2={260} y1={ysB(1.13)} y2={ysB(1.13)} />
          <line x1={223} x2={283} y1={ysB(1.09)} y2={ysB(1.09)} />
          <line x1={223} x2={260} y1={ysB(1.05)} y2={ysB(1.05)} />
        </g>
        <text x={248} y={ysB(1.22)} textAnchor="middle" fontSize={10}>*</text>
        {bSeries.map((s, i) => (
          <g key={s}>
            <rect x={278} y={389 + i * 11 - 3.5} width={9} height={7} fill={bSpec.fills[i]} stroke="#000" strokeWidth={0.8} />
            <LegendLabel label={s} x={291} y={389 + i * 11} />
          </g>
        ))}
      </BarPanel>

      <BarPanel b={dSpec}>
        <line x1={225} x2={267} y1={ysD(1.12)} y2={ysD(1.12)} stroke="#000" strokeWidth={1.2} />
        <text x={246} y={ysD(1.15)} textAnchor="middle" fontSize={10}>*</text>
        {dSeries.map((s, i) => (
          <g key={s}>
            <rect x={282} y={597 + i * 16 - 4.5} width={13} height={9} fill={dSpec.fills[i]} stroke="#000" strokeWidth={0.8} />
            <LegendLabel label={s} x={299} y={597 + i * 16} />
          </g>
        ))}
      </BarPanel>
    </svg>
  );
}
